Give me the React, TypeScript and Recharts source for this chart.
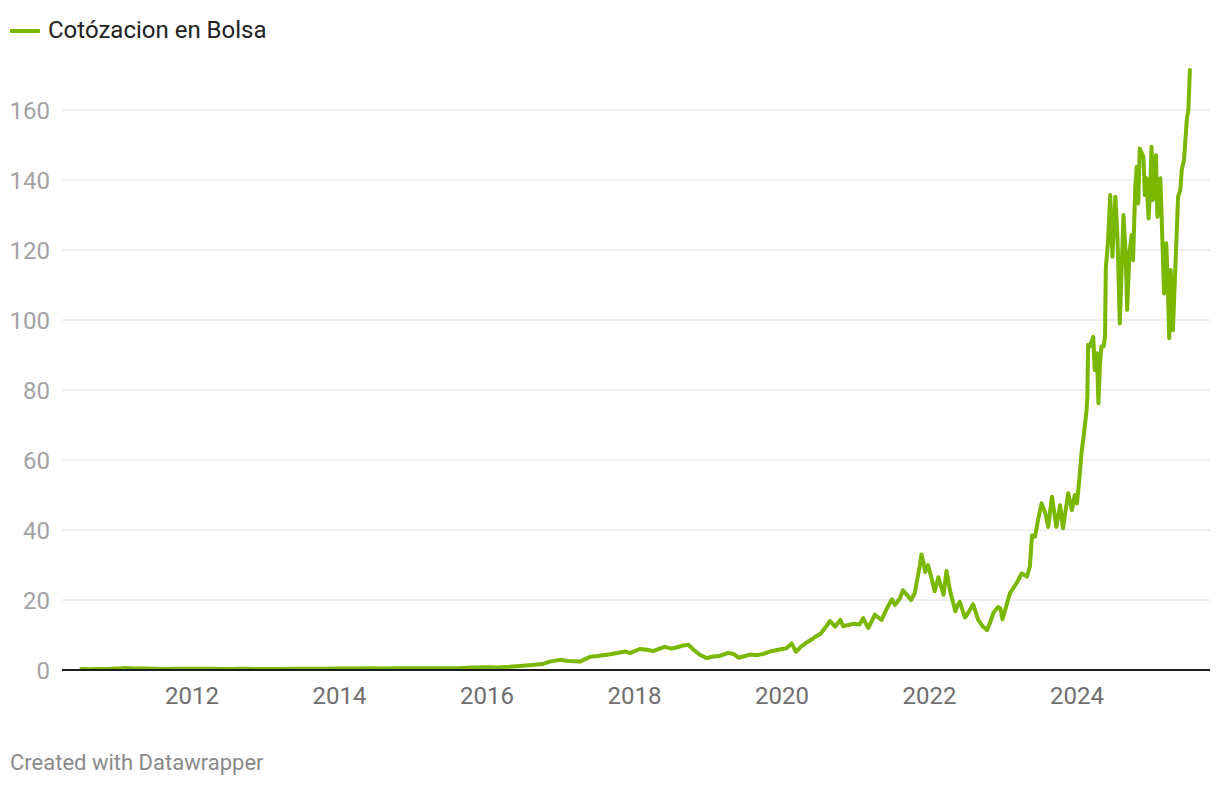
import React from "react";
import { LineChart, Line, XAxis, YAxis, ReferenceLine } from "recharts";

const seriesName = "Cotózacion en Bolsa";
const footerText = "Created with Datawrapper";

const dates: number[] = [
  2010.50, 2010.60, 2010.75, 2010.90, 2011.05, 2011.10, 2011.20, 2011.35, 2011.50, 2011.65, 2011.80, 2011.95,
  2012.10, 2012.25, 2012.40, 2012.55, 2012.70, 2012.85, 2013.00, 2013.20, 2013.40, 2013.60, 2013.80,
  2014.00, 2014.20, 2014.40, 2014.60, 2014.80, 2015.00, 2015.20, 2015.40, 2015.60, 2015.80,
  2016.00, 2016.15, 2016.30, 2016.45, 2016.60, 2016.75, 2016.85, 2016.99,
  2017.10, 2017.26, 2017.40, 2017.50, 2017.67, 2017.80, 2017.87, 2017.94,
  2018.07, 2018.17, 2018.25, 2018.35, 2018.41, 2018.50, 2018.58, 2018.64, 2018.73, 2018.80, 2018.89, 2018.98,
  2019.05, 2019.15, 2019.27, 2019.35, 2019.41, 2019.50, 2019.57, 2019.65, 2019.75, 2019.84, 2019.95,
  2020.06, 2020.13, 2020.19, 2020.25, 2020.33, 2020.40, 2020.45, 2020.52, 2020.60, 2020.65, 2020.72, 2020.79, 2020.83, 2020.97,
  2021.05, 2021.10, 2021.17, 2021.26, 2021.35, 2021.42, 2021.49, 2021.53, 2021.60, 2021.64, 2021.75, 2021.80, 2021.83, 2021.87, 2021.89, 2021.92, 2021.94, 2021.98,
  2022.03, 2022.07, 2022.12, 2022.19, 2022.23, 2022.28, 2022.35, 2022.38, 2022.41, 2022.48, 2022.53, 2022.59, 2022.66, 2022.72, 2022.78, 2022.82, 2022.87, 2022.93, 2022.96, 2022.99,
  2023.05, 2023.09, 2023.18, 2023.25, 2023.32, 2023.36, 2023.39, 2023.43, 2023.48, 2023.52, 2023.57, 2023.61, 2023.66, 2023.72, 2023.77, 2023.81, 2023.88, 2023.93, 2023.97,
  2024.00, 2024.03, 2024.06, 2024.10, 2024.13, 2024.14, 2024.15, 2024.17, 2024.20, 2024.22, 2024.24, 2024.27, 2024.29, 2024.31, 2024.33, 2024.36, 2024.38,
  2024.39, 2024.42, 2024.45, 2024.48, 2024.52, 2024.55, 2024.58, 2024.63, 2024.66, 2024.68, 2024.71, 2024.74, 2024.76, 2024.79, 2024.81, 2024.83, 2024.85,
  2024.90, 2024.92, 2024.94, 2024.97, 2024.99, 2025.01, 2025.03, 2025.07, 2025.09, 2025.13, 2025.16, 2025.18, 2025.21, 2025.23, 2025.25, 2025.27, 2025.30,
  2025.33, 2025.37, 2025.40, 2025.42, 2025.45, 2025.49, 2025.51, 2025.53,
];

const prices: number[] = [
  0.26, 0.24, 0.27, 0.35, 0.50, 0.58, 0.45, 0.43, 0.38, 0.32, 0.36, 0.34,
  0.35, 0.34, 0.31, 0.30, 0.34, 0.29, 0.30, 0.31, 0.36, 0.38, 0.38,
  0.40, 0.45, 0.47, 0.46, 0.48, 0.50, 0.52, 0.50, 0.48, 0.68,
  0.80, 0.75, 0.90, 1.15, 1.40, 1.70, 2.40, 2.90,
  2.60, 2.40, 3.80, 4.00, 4.50, 5.00, 5.30, 4.80,
  6.00, 5.80, 5.40, 6.20, 6.60, 6.10, 6.50, 6.90, 7.20, 5.80, 4.30, 3.40,
  3.80, 4.00, 4.90, 4.50, 3.50, 4.00, 4.40, 4.20, 4.60, 5.30, 5.80,
  6.20, 7.60, 5.20, 6.50, 7.80, 8.70, 9.50, 10.3, 12.5, 14.0, 12.4, 14.3, 12.5, 13.2,
  13.0, 14.8, 12.0, 15.8, 14.3, 17.5, 20.2, 18.6, 20.5, 22.8, 20.0, 22.0, 25.5, 30.0, 33.0, 30.5, 28.0, 30.0,
  26.0, 22.5, 26.5, 21.5, 28.3, 22.5, 16.8, 18.5, 19.5, 15.0, 16.5, 18.8, 14.3, 12.5, 11.4, 13.5, 16.5, 18.0, 17.6, 14.5,
  19.0, 21.9, 24.8, 27.6, 26.7, 29.5, 38.5, 38.1, 43.8, 47.6, 44.8, 40.9, 49.5, 40.9, 47.1, 40.5, 50.5, 45.7, 50.0,
  47.6, 54.3, 61.9, 68.6, 74.3, 78.1, 92.9, 92.4, 94.0, 95.2, 85.7, 90.5, 76.2, 87.0, 92.4, 92.4, 95.2,
  114.8, 122.4, 135.7, 118.1, 135.2, 122.9, 99.0, 130.0, 119.0, 102.9, 119.0, 124.3, 117.1, 138.1, 143.8, 133.3, 149.0,
  146.7, 135.7, 140.5, 129.0, 136.2, 149.5, 134.3, 147.1, 129.5, 140.5, 121.0, 107.6, 121.9, 110.5, 94.8, 114.3, 97.1,
  113.3, 135.2, 137.1, 142.9, 145.7, 157.6, 160.0, 171.4,
];

const xTicks: number[] = [2012, 2014, 2016, 2018, 2020, 2022, 2024];
const yTicks: number[] = [0, 20, 40, 60, 80, 100, 120, 140, 160];

const data = dates.map((t, i) => ({ t, v: prices[i] }));

const GREEN = "#7ab800";
const FONT = "Roboto, 'Noto Sans', sans-serif";

export default function App() {
  return (
    <div
      style={{
        position: "absolute",
        left: 0,
        top: 0,
        width: 1220,
        height: 786,
        background: "#ffffff",
        fontFamily: FONT,
        overflow: "hidden",
      }}
    >
      <div style={{ position: "absolute", left: 10, top: 29, width: 30, height: 4, background: GREEN, borderRadius: 1 }} />
      <div
        style={{
          position: "absolute",
          left: 48,
          top: 18,
          fontSize: 24,
          lineHeight: "24px",
          color: "#222222",
          whiteSpace: "nowrap",
        }}
      >
        {seriesName}
      </div>
      <div style={{ position: "absolute", left: 0, top: 0 }}>
        <LineChart width={1220} height={786} data={data} margin={{ top: 68, right: 10, bottom: 76, left: 10 }}>
          {yTicks
            .filter((t) => t > 0)
            .map((t) => (
              <ReferenceLine key={t} y={t} stroke="#e0e0e0" strokeWidth={1} ifOverflow="extendDomain" />
            ))}
          <XAxis
            dataKey="t"
            type="number"
            domain={[2010.237, 2025.803]}
            ticks={xTicks}
            allowDataOverflow
            tickFormatter={(v: number) => String(v)}
            axisLine={{ stroke: "#1d1d1d", strokeWidth: 2 }}
            tickLine={false}
            tickSize={0}
            tickMargin={17}
            height={40}
            tick={{ fill: "#6e6e6e", fontSize: 24, fontFamily: FONT }}
          />
          <YAxis
            type="number"
            domain={[0, 172]}
            ticks={yTicks}
            allowDataOverflow
            axisLine={false}
            tickLine={false}
            tickSize={0}
            tickMargin={12}
            width={52}
            tick={{ fill: "#a3a3a3", fontSize: 24, fontFamily: FONT }}
          />
          <Line
            type="linear"
            dataKey="v"
            stroke={GREEN}
            strokeWidth={4}
            strokeLinejoin="round"
            strokeLinecap="round"
            dot={false}
            activeDot={false}
            isAnimationActive={false}
          />
        </LineChart>
      </div>
      <div
        style={{
          position: "absolute",
          left: 10,
          top: 752,
          fontSize: 22,
          lineHeight: "22px",
          color: "#8a8a8a",
          whiteSpace: "nowrap",
        }}
      >
        {footerText}
      </div>
    </div>
  );
}
